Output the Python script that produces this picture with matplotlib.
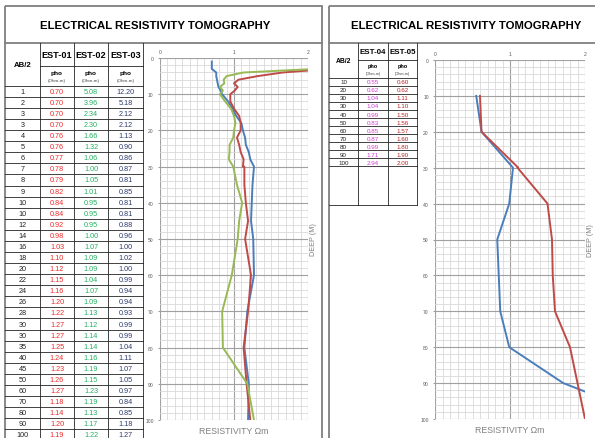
import matplotlib.pyplot as plt
from matplotlib.ticker import MultipleLocator

# panel 1 : EST-01..03
ab2_a = [1, 2, 3, 3, 4, 5, 6, 7, 8, 9, 10, 10, 12, 14, 16, 18, 20, 22, 24, 26,
         28, 30, 30, 35, 40, 45, 50, 60, 70, 80, 90, 100]
est01 = [0.70, 0.70, 0.70, 0.70, 0.76, 0.76, 0.77, 0.78, 0.79, 0.82, 0.84, 0.84,
         0.92, 0.98, 1.03, 1.10, 1.12, 1.15, 1.16, 1.20, 1.22, 1.27, 1.27, 1.25,
         1.24, 1.23, 1.26, 1.27, 1.18, 1.14, 1.20, 1.19]
est02 = [5.08, 3.96, 2.34, 2.30, 1.66, 1.32, 1.06, 1.00, 1.05, 1.01, 0.95, 0.95,
         0.95, 1.00, 1.07, 1.09, 1.09, 1.04, 1.07, 1.09, 1.13, 1.12, 1.14, 1.14,
         1.16, 1.19, 1.15, 1.23, 1.19, 1.13, 1.17, 1.22]
est03 = [12.20, 5.18, 2.12, 2.12, 1.13, 0.90, 0.86, 0.87, 0.81, 0.85, 0.81, 0.81,
         0.88, 0.96, 1.00, 1.02, 1.00, 0.99, 0.94, 0.94, 0.93, 0.99, 0.99, 1.04,
         1.11, 1.07, 1.05, 0.97, 0.84, 0.85, 1.18, 1.27]

# panel 2 : EST-04..05
ab2_b = [10, 20, 30, 30, 40, 50, 60, 70, 80, 90, 100]
est04 = [0.55, 0.62, 1.04, 1.04, 0.99, 0.83, 0.85, 0.87, 0.99, 1.71, 2.94]
est05 = [0.60, 0.62, 1.11, 1.10, 1.50, 1.56, 1.57, 1.60, 1.80, 1.90, 2.00]

TITLE = "ELECTRICAL RESISTIVITY TOMOGRAPHY"
BLUE, RED, GREEN = "#4a7ebb", "#be4b48", "#98b954"
W, H = 595, 439

plt.rcParams['font.family'] = ['Liberation Sans', 'DejaVu Sans']
fig = plt.figure(figsize=(W / 100, H / 100), dpi=100)
bg = fig.add_axes([0, 0, 1, 1])
bg.set_xlim(0, W)
bg.set_ylim(H, 0)
bg.axis('off')

def hline(y, x0, x1, **kw):
    bg.plot([x0, x1], [y, y], **kw)

def vline(x, y0, y1, **kw):
    bg.plot([x, x], [y0, y1], **kw)

border = dict(color="#7f7f7f", lw=1.3)
cell = dict(color="#222222", lw=0.6)

# cadres des deux panneaux
for x0, x1 in [(5, 322), (329, 640)]:
    bg.add_patch(plt.Rectangle((x0, 7), x1 - x0, 440, fill=False, ec="#7f7f7f", lw=1.3))
    hline(44, x0, x1, **border)
bg.text(155, 26, TITLE, ha='center', va='center', fontsize=8.2, fontweight='bold')
bg.text(466, 26, TITLE, ha='center', va='center', fontsize=8.2, fontweight='bold')


def draw_table(xs, y_pho, y_data, row_h, names, cols, colors, ab2, y_end,
               fs_head, fs_val):
    x_left, x_right = xs[0], xs[-1]
    n = len(ab2)
    for x in xs[1:]:
        vline(x, 44, y_end, **cell)
    hline(y_pho, xs[1], x_right, **cell)
    for i in range(n + 1):
        hline(y_data + i * row_h, x_left, x_right, **cell)
    bg.text((xs[0] + xs[1]) / 2, (44 + y_data) / 2, "AB/2", ha='center', va='center',
            fontsize=fs_head * 0.85, fontweight='bold')
    for j, name in enumerate(names):
        xc = (xs[j + 1] + xs[j + 2]) / 2
        bg.text(xc, (44 + y_pho) / 2 + 0.5, name, ha='center', va='center',
                fontsize=fs_head, fontweight='bold')
        bg.text(xc, y_pho + (y_data - y_pho) * 0.35, "pho", ha='center', va='center',
                fontsize=fs_val * 0.9, fontweight='bold')
        bg.text(xc, y_pho + (y_data - y_pho) * 0.72, "(Ohm-m)", ha='center', va='center',
                fontsize=fs_val * 0.62, color="#444444")
    for i, a in enumerate(ab2):
        yc = y_data + (i + 0.5) * row_h
        bg.text((xs[0] + xs[1]) / 2, yc, str(a), ha='center', va='center',
                fontsize=fs_val, color="#222222")
        for j, vals in enumerate(cols):
            bg.text((xs[j + 1] + xs[j + 2]) / 2, yc, f"{vals[i]:.2f}", ha='center',
                    va='center', fontsize=fs_val, color=colors[j])


draw_table([5, 40, 74, 108, 143], 66.5, 86.8, 11.08,
           ["EST-01", "EST-02", "EST-03"], [est01, est02, est03],
           ["#ee2a2a", "#22b060", "#2e3a6e"], ab2_a, 445, 6.6, 5.2)

draw_table([329, 358, 388, 417], 60.5, 78.7, 8.07,
           ["EST-04", "EST-05"], [est04, est05],
           ["#d23cd2", "#c0221f"], ab2_b, 206, 5.7, 4.5)
hline(206, 329, 417, **cell)


def chart(px, series):
    x0, y0, x1, y1 = px
    ax = fig.add_axes([x0 / W, (H - y1) / H, (x1 - x0) / W, (y1 - y0) / H])
    ax.set_xlim(0, 2)
    ax.set_ylim(100, 0)
    ax.xaxis.tick_top()
    ax.xaxis.set_major_locator(MultipleLocator(1))
    ax.xaxis.set_minor_locator(MultipleLocator(0.1))
    ax.yaxis.set_major_locator(MultipleLocator(10))
    ax.yaxis.set_minor_locator(MultipleLocator(2))
    ax.grid(which='minor', color="#d9d9d9", lw=0.6)
    ax.grid(which='major', color="#a0a0a0", lw=0.8)
    ax.set_axisbelow(True)
    for s in ax.spines.values():
        s.set_visible(False)
    ax.tick_params(which='both', length=0, labelsize=3.6, labelcolor="#595959", pad=3)
    ax.tick_params(axis='y', which='major', length=1.5, color="#a0a0a0")
    for vals, depth, c in series:
        ax.plot(vals, depth, color=c, lw=1.4, solid_joinstyle='round')
    ax.set_xlabel("RESISTIVITY Ωm", fontsize=6.3, color="#7f7f7f", labelpad=4)
    ax.yaxis.set_label_position('right')
    ax.set_ylabel("DEEP (M)", fontsize=5.2, color="#7f7f7f", labelpad=1.5)
    return ax


chart((160, 59, 308, 421), [(est01, ab2_a, BLUE), (est02, ab2_a, RED), (est03, ab2_a, GREEN)])
chart((435, 61, 585, 420), [(est04, ab2_b, BLUE), (est05, ab2_b, RED)])

fig.savefig("out.png", dpi=100)
